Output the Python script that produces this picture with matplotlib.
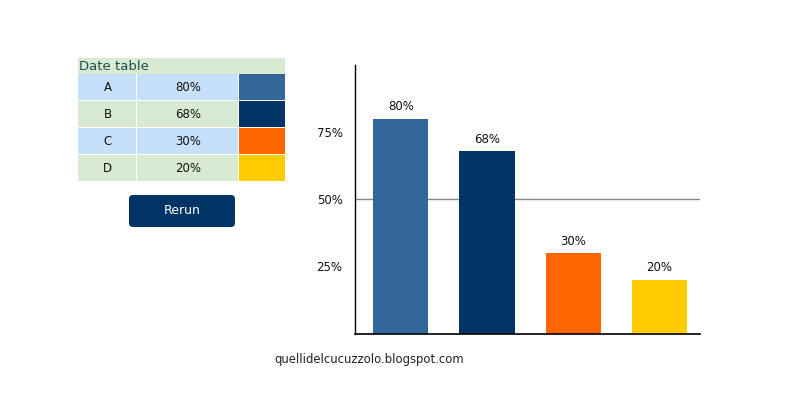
import matplotlib.pyplot as plt
from matplotlib.patches import Rectangle, FancyBboxPatch

labels = ["A", "B", "C", "D"]
values = [80, 68, 30, 20]
colors = ["#336699", "#003366", "#ff6600", "#ffcc00"]
yticks = [25, 50, 75]

fig = plt.figure(figsize=(8, 4), dpi=100)

# background overlay in pixel coordinates for table / button / footer
bg = fig.add_axes([0, 0, 1, 1])
bg.set_xlim(0, 800)
bg.set_ylim(400, 0)
bg.axis("off")

# table header
bg.add_patch(Rectangle((78, 58), 207, 16, facecolor="#d9ead3", edgecolor="none"))
bg.text(79, 66, "Date table", va="center", ha="left", fontsize=9.5, color="#1f4e4e")

row_h = 27
col_x = [78, 137, 239, 285]
for i, (lab, val, col) in enumerate(zip(labels, values, colors)):
    y0 = 74 + i * row_h
    fill = "#c6e0f9" if i % 2 == 0 else "#d9ead3"
    bg.add_patch(Rectangle((col_x[0], y0), col_x[1] - col_x[0] - 1, row_h - 1,
                           facecolor=fill, edgecolor="none"))
    bg.add_patch(Rectangle((col_x[1], y0), col_x[2] - col_x[1] - 1, row_h - 1,
                           facecolor=fill, edgecolor="none"))
    bg.add_patch(Rectangle((col_x[2], y0), col_x[3] - col_x[2], row_h - 1,
                           facecolor=col, edgecolor="none"))
    bg.text((col_x[0] + col_x[1]) / 2, y0 + row_h / 2, lab,
            ha="center", va="center", fontsize=8.5, color="#111111")
    bg.text((col_x[1] + col_x[2]) / 2, y0 + row_h / 2, f"{val}%",
            ha="center", va="center", fontsize=8.5, color="#111111")

# Rerun button
bg.add_patch(FancyBboxPatch((131, 197), 102, 28, boxstyle="round,pad=2,rounding_size=4",
                            facecolor="#003366", edgecolor="none"))
bg.text(182, 211, "Rerun", ha="center", va="center", fontsize=9, color="white")

# footer
bg.text(369, 360, "quellidelcucuzzolo.blogspot.com", ha="center", va="center",
        fontsize=8.4, color="#222222")

# bar chart
ax = fig.add_axes([355 / 800, 1 - 333.5 / 400, 345 / 800, 268.5 / 400])
x = range(len(labels))
bars = ax.bar(x, values, width=0.64, color=colors, zorder=2)
ax.set_xlim(-0.53, len(labels) - 0.53)
ax.set_ylim(0, 100)
ax.set_xticks([])
ax.set_yticks(yticks)
ax.set_yticklabels([f"{t}%" for t in yticks], fontsize=8.5, color="#111111")
ax.tick_params(axis="y", length=0, pad=9)
ax.axhline(50, color="#888888", linewidth=1, zorder=1)
for s in ["top", "right"]:
    ax.spines[s].set_visible(False)
ax.spines["left"].set_linewidth(1)
ax.spines["bottom"].set_linewidth(1.2)
for b, v in zip(bars, values):
    ax.text(b.get_x() + b.get_width() / 2, v + 2, f"{v}%",
            ha="center", va="bottom", fontsize=8.5, color="#111111")

fig.savefig("out.png", dpi=100)
